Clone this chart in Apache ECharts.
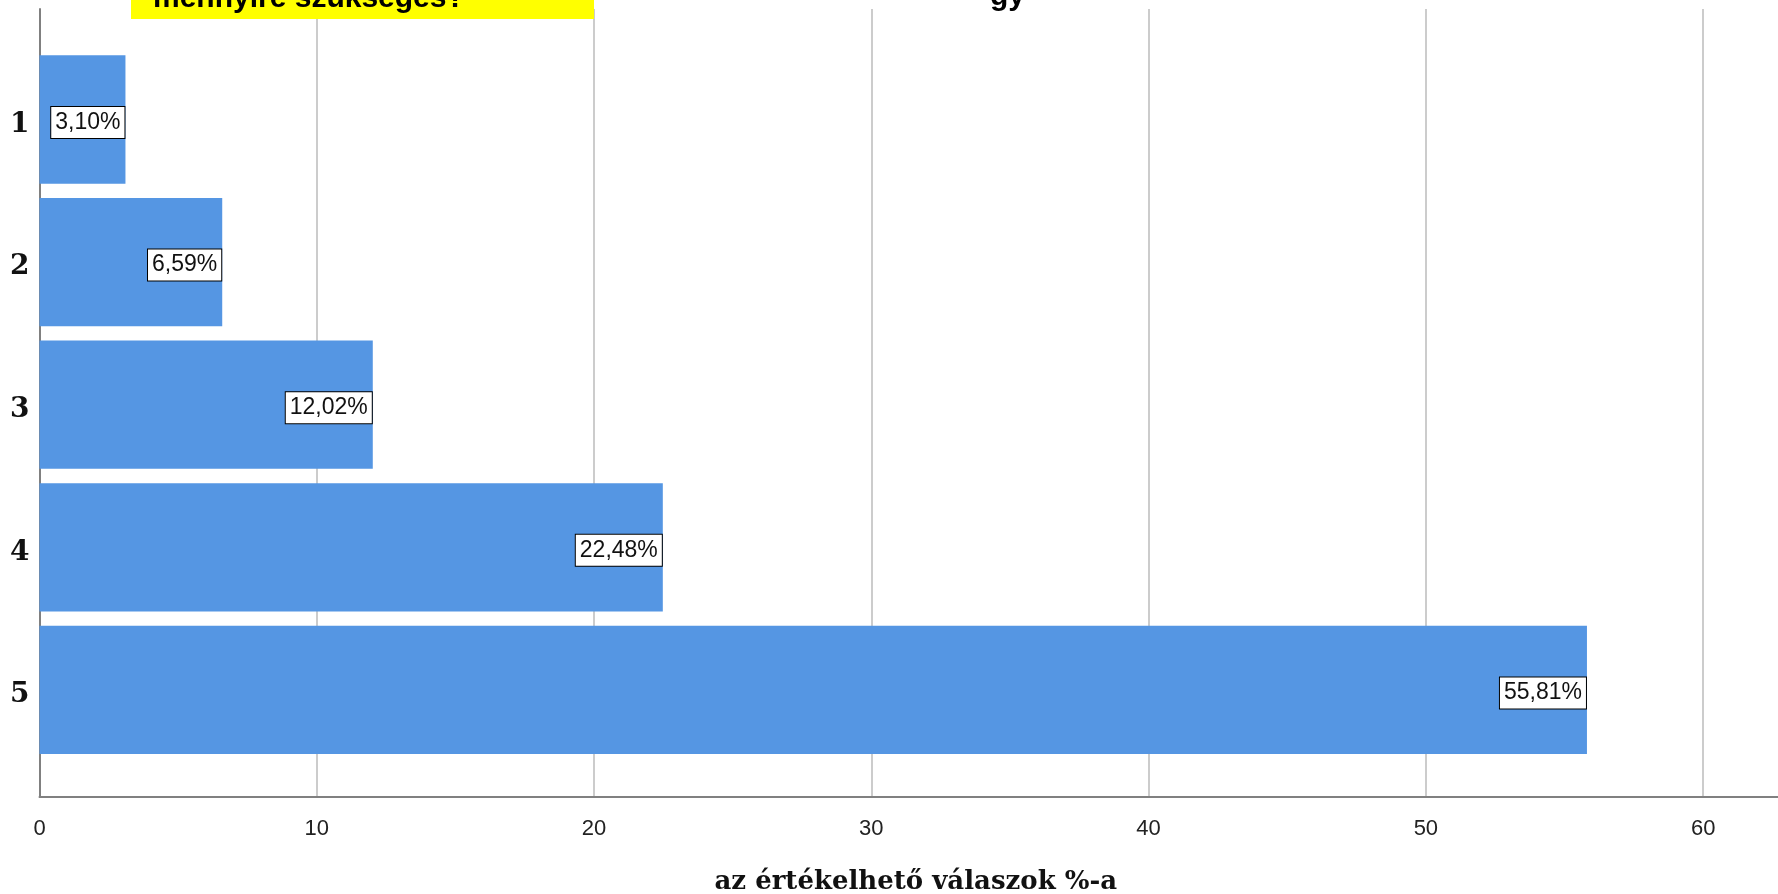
<!DOCTYPE html>
<html>
<head>
<meta charset="utf-8">
<script src="https://cdn.jsdelivr.net/npm/echarts@6/dist/echarts.min.js"></script>
<style>
html,body{margin:0;padding:0;background:#fff;}
#chart{width:1778px;height:894px;}
</style>
</head>
<body>
<div id="chart"></div>
<script>
const categories = ['1', '2', '3', '4', '5'];
const percentValues = [3.10, 6.59, 12.02, 22.48, 55.81];
const xTickValues = [0, 10, 20, 30, 40, 50, 60];
const axisTitle = 'az értékelhető válaszok %-a';
const topBoxText = 'mennyire szükséges?';
const topRightText = 'gy';

const X_MAX = 62.7;
const chart = echarts.init(document.getElementById('chart'), null, {renderer: 'canvas'});

const option = {
  backgroundColor: '#ffffff',
  animation: false,
  grid: [
    {left: 39.5, right: 0, top: 9, bottom: 97, outerBoundsMode: 'none', containLabel: false},
    {left: 39.5, right: 0, top: 48.2, height: 713, outerBoundsMode: 'none', containLabel: false}
  ],
  xAxis: [
    {
      gridIndex: 0, type: 'value', min: 0, max: X_MAX, interval: 10,
      axisLine: {show: true, lineStyle: {color: '#808080', width: 2}},
      axisTick: {show: false},
      splitLine: {show: true, showMinLine: true, showMaxLine: false, lineStyle: {color: '#cccccc', width: 2}},
      axisLabel: {
        show: true, showMaxLabel: false, margin: 21,
        fontFamily: 'Liberation Sans', fontSize: 22, color: '#222',
        formatter: v => xTickValues.includes(v) ? String(v) : ''
      },
      name: axisTitle, nameLocation: 'middle', nameGap: 72,
      nameTextStyle: {fontFamily: 'DejaVu Serif', fontWeight: 'bold', fontSize: 26, color: '#111', padding: [0, 0, 0, 14]}
    },
    {
      gridIndex: 1, type: 'value', min: 0, max: X_MAX, show: false
    }
  ],
  yAxis: [
    {
      gridIndex: 0, type: 'value', min: 0, max: 1,
      axisLine: {show: true, lineStyle: {color: '#808080', width: 2}},
      axisTick: {show: false}, axisLabel: {show: false}, splitLine: {show: false}
    },
    {
      gridIndex: 1, type: 'category', data: categories, inverse: true,
      axisLine: {show: false}, axisTick: {show: false}, splitLine: {show: false},
      axisLabel: {
        margin: 10, lineHeight: 10,
        formatter: v => '\n' + v,
        fontFamily: 'DejaVu Serif', fontWeight: 'bold', fontSize: 28, color: '#111'
      }
    }
  ],
  series: [{
    type: 'bar', xAxisIndex: 1, yAxisIndex: 1,
    data: percentValues,
    barCategoryGap: '10%',
    itemStyle: {color: '#5596e3'},
    label: {
      show: true, position: 'insideRight', distance: 1, offset: [0, 3],
      formatter: p => p.value.toFixed(2).replace('.', ',') + '%',
      fontFamily: 'Liberation Sans', fontSize: 23, color: '#111',
      backgroundColor: '#ffffff', borderColor: '#000', borderWidth: 1,
      padding: [5, 4, 3, 4]
    }
  }],
  graphic: [
    {type: 'rect', left: 131, top: 0, shape: {width: 463, height: 19}, style: {fill: '#ffff00'}, z: 10},
    {type: 'text', x: 153, y: 14, z: 11, style: {text: topBoxText, fontFamily: 'Liberation Sans', fontWeight: 'bold', fontSize: 30, fill: '#000', verticalAlign: 'bottom'}},
    {type: 'text', x: 990, y: 12, z: 11, style: {text: topRightText, fontFamily: 'Liberation Sans', fontWeight: 'bold', fontSize: 30, fill: '#000', verticalAlign: 'bottom'}}
  ]
};
chart.setOption(option);
</script>
</body>
</html>
